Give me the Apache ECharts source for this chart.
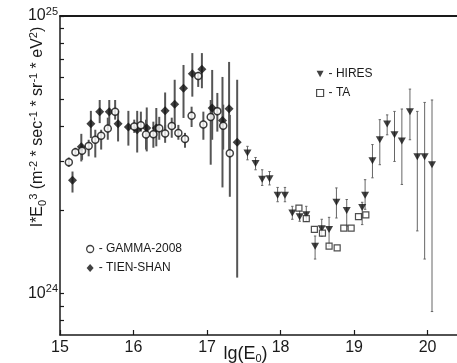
<!DOCTYPE html>
<html>
<head>
<meta charset="utf-8">
<script src="https://cdn.jsdelivr.net/npm/echarts@6/dist/echarts.min.js"></script>
<style>
  html, body { margin: 0; padding: 0; background: #fff; }
  #chart { width: 457px; height: 363px; }
</style>
</head>
<body>
<div id="chart"></div>
<script>
// x: lg(E0), y: I*E0^3 in units of 1e24 m^-2 sec^-1 sr^-1 eV^2
const gammaX = [15.12, 15.21, 15.30, 15.39, 15.48, 15.56, 15.65, 15.75, 16.01, 16.10, 16.17, 16.27, 16.35, 16.43, 16.52, 16.61, 16.70, 16.79, 16.88, 16.95, 17.05, 17.14, 17.22, 17.31];
const gammaY = [2.97, 3.23, 3.27, 3.40, 3.58, 3.70, 3.93, 4.52, 4.00, 4.04, 3.74, 3.75, 3.94, 3.77, 4.01, 3.79, 3.60, 4.37, 6.08, 4.06, 4.32, 4.54, 4.02, 3.20];
const gammaLo = [2.86, 3.14, 3.03, 3.12, 3.09, 3.30, 3.58, 4.23, 3.79, 3.83, 3.30, 3.35, 3.58, 3.49, 3.64, 3.58, 3.35, 3.98, 5.55, 3.58, 2.91, 3.83, 3.30, 2.23];
const gammaHi = [3.09, 3.35, 3.44, 3.58, 3.89, 3.89, 4.30, 4.98, 4.23, 4.52, 4.23, 4.16, 4.33, 4.05, 4.30, 4.05, 3.79, 4.71, 6.29, 4.52, 4.98, 5.28, 4.79, 4.40];

const tienX = [15.17, 15.29, 15.42, 15.54, 15.67, 15.79, 15.93, 16.05, 16.18, 16.31, 16.43, 16.56, 16.68, 16.80, 16.93, 17.07, 17.21, 17.30, 17.41];
const tienY = [2.56, 3.38, 4.09, 4.52, 4.52, 4.09, 3.98, 3.89, 3.95, 3.95, 4.55, 4.81, 5.49, 6.19, 6.43, 4.66, 4.20, 4.63, 3.51];
const tienLo = [2.31, 2.99, 3.63, 4.11, 4.05, 3.53, 3.41, 3.22, 3.25, 3.39, 3.89, 3.94, 4.29, 5.12, 5.49, 3.58, 2.41, 3.30, 1.14];
const tienHi = [2.75, 3.76, 4.55, 4.98, 4.98, 4.55, 4.55, 4.55, 4.68, 4.66, 5.30, 5.89, 6.66, 7.35, 7.35, 6.39, 6.03, 6.83, 5.89];

const hiresX = [17.55, 17.66, 17.75, 17.85, 17.96, 18.06, 18.16, 18.26, 18.35, 18.47, 18.56, 18.66, 18.76, 18.90, 19.11, 19.15, 19.25, 19.35, 19.45, 19.55, 19.65, 19.76, 19.86, 19.96, 20.06];
const hiresY = [3.21, 2.94, 2.58, 2.59, 2.26, 2.26, 1.95, 1.89, 1.92, 1.48, 1.71, 1.70, 2.13, 1.99, 2.04, 2.26, 3.01, 3.58, 4.08, 3.73, 3.54, 4.52, 3.11, 3.11, 2.91];
const hiresLo = [3.03, 2.79, 2.45, 2.46, 2.14, 2.14, 1.85, 1.82, 1.82, 1.33, 1.61, 1.48, 1.87, 1.75, 1.77, 2.01, 2.61, 2.91, 3.73, 2.99, 2.47, 3.58, 1.68, 1.33, 0.86];
const hiresHi = [3.39, 3.09, 2.79, 2.75, 2.41, 2.41, 2.06, 1.99, 2.06, 1.61, 1.85, 1.88, 2.40, 2.18, 2.13, 2.57, 3.44, 4.23, 4.40, 4.53, 4.62, 5.45, 4.53, 4.88, 4.98];

const taX = [18.25, 18.35, 18.46, 18.57, 18.66, 18.77, 18.86, 18.96, 19.06, 19.16];
const taY = [2.03, 1.86, 1.70, 1.65, 1.48, 1.46, 1.72, 1.72, 1.89, 1.92];

const xTicks = [15, 16, 17, 18, 19, 20];
const yLabelExps = [24, 25];
const yTickValues = [0.8, 0.9, 1, 2, 3, 4, 5, 6, 7, 8, 9, 10]; // x 1e24

const FONT = "'Liberation Sans', Arial, sans-serif";
const INK = "#1a1a1a";
const DOWN_TRIANGLE = "path://M0,0L10,0L5,9Z";

// plot on log10 scale
const lg = (v) => 24 + Math.log10(v);
const points = (xs, ys) => xs.map((x, i) => [x, lg(ys[i])]);
const bars = (xs, lo, hi) => xs.map((x, i) => [x, lg(lo[i]), lg(hi[i])]);

function errorBars(data, color, width, cap) {
  return {
    type: "custom",
    data: data,
    z: 1,
    silent: true,
    encode: { x: 0, y: [1, 2] },
    renderItem: (params, api) => {
      const top = api.coord([api.value(0), api.value(2)]);
      const bot = api.coord([api.value(0), api.value(1)]);
      const style = { stroke: color, lineWidth: width };
      const children = [
        { type: "line", shape: { x1: top[0], y1: top[1], x2: bot[0], y2: bot[1] }, style },
      ];
      if (cap) {
        children.push(
          { type: "line", shape: { x1: top[0] - cap, y1: top[1], x2: top[0] + cap, y2: top[1] }, style },
          { type: "line", shape: { x1: bot[0] - cap, y1: bot[1], x2: bot[0] + cap, y2: bot[1] }, style }
        );
      }
      return { type: "group", children };
    },
  };
}

const chart = echarts.init(document.getElementById("chart"), null, { renderer: "canvas" });

const legendText = { color: INK, fontSize: 12, fontFamily: FONT, lineHeight: 14 };

const option = {
  animation: false,
  backgroundColor: "#fff",
  textStyle: { fontFamily: FONT },
  grid: {
    left: 60,
    right: 0,
    top: 16,
    bottom: 28,
    containLabel: false,
    outerBoundsMode: "none",
  },
  legend: [
    {
      data: [
        { name: "GAMMA-2008", icon: "circle", itemStyle: { color: "#fff", borderColor: "#111", borderWidth: 1.3 } },
        { name: "TIEN-SHAN", icon: "diamond" },
      ],
      orient: "vertical",
      left: 86,
      top: 242,
      padding: 0,
      itemGap: 5,
      itemWidth: 7,
      itemHeight: 8,
      formatter: "- {name}",
      textStyle: legendText,
      selectedMode: false,
    },
    {
      data: [
        { name: "HIRES", icon: DOWN_TRIANGLE },
        { name: "TA", icon: "rect", itemStyle: { color: "#fff", borderColor: "#222", borderWidth: 1.2 } },
      ],
      orient: "vertical",
      left: 316,
      top: 67,
      padding: 0,
      itemGap: 5,
      itemWidth: 7,
      itemHeight: 7,
      formatter: "- {name}",
      textStyle: legendText,
      selectedMode: false,
    },
  ],
  xAxis: [
    {
      type: "value",
      min: 15,
      max: 20.4,
      name: "{a|lg(E}{sub|0}{a|)}",
      nameLocation: "middle",
      nameGap: 9,
      nameMoveOverlap: false,
      nameTextStyle: {
        padding: [0, 26, 0, 0],
        rich: {
          a: { fontSize: 18, lineHeight: 20, color: INK, fontFamily: FONT },
          sub: { fontSize: 11, lineHeight: 11, color: INK, fontFamily: FONT, verticalAlign: "bottom" },
        },
      },
      axisLine: { show: true, onZero: false, lineStyle: { color: INK, width: 1.5 } },
      axisTick: { inside: true, length: 5, customValues: xTicks, lineStyle: { color: INK, width: 1.2 } },
      axisLabel: { customValues: xTicks, color: INK, fontSize: 16, fontFamily: FONT, margin: 5 },
      splitLine: { show: false },
    },
    {
      type: "value",
      position: "top",
      min: 15,
      max: 20.4,
      axisLine: { show: true, onZero: false, lineStyle: { color: INK, width: 1.8 } },
      axisTick: { show: false },
      axisLabel: { show: false },
      splitLine: { show: false },
    },
  ],
  yAxis: {
    type: "value",
    min: 23.85,
    max: 25,
    name:
      "{m|I*E}{sub|0}{sup|3}{m| (m}{sup|-2}{m| * sec}{sup|-1}{m| * sr}{sup|-1}{m| * eV}{sup|2}{m|)}",
    nameLocation: "middle",
    nameRotate: 90,
    nameGap: 12,
    nameMoveOverlap: false,
    nameTextStyle: {
      padding: [0, 0, 0, 97],
      rich: {
        m: { fontSize: 16, lineHeight: 20, color: INK, fontFamily: FONT },
        sub: { fontSize: 11, lineHeight: 11, color: INK, fontFamily: FONT, verticalAlign: "bottom" },
        sup: { fontSize: 11, lineHeight: 11, color: INK, fontFamily: FONT, verticalAlign: "top" },
      },
    },
    axisLine: { show: true, onZero: false, lineStyle: { color: INK, width: 1.5 } },
    axisTick: {
      inside: true,
      length: 4,
      customValues: yTickValues.map(lg),
      lineStyle: { color: INK, width: 1.2 },
    },
    axisLabel: {
      customValues: yLabelExps,
      margin: 2,
      formatter: (v) => "{b|10}{s|" + Math.round(v) + "}",
      rich: {
        b: { fontSize: 16, lineHeight: 20, color: INK, fontFamily: FONT },
        s: { fontSize: 11, lineHeight: 11, color: INK, fontFamily: FONT, verticalAlign: "top" },
      },
    },
    splitLine: { show: false },
  },
  series: [
    errorBars(bars(gammaX, gammaLo, gammaHi), "#555", 2, 0),
    errorBars(bars(tienX, tienLo, tienHi), "#555", 2, 0),
    errorBars(bars(hiresX, hiresLo, hiresHi), "#666", 1, 1.2),
    {
      name: "GAMMA-2008",
      type: "scatter",
      data: points(gammaX, gammaY),
      symbol: "circle",
      symbolSize: 7,
      z: 4,
      itemStyle: { color: "#fff", borderColor: "#111", borderWidth: 1.5 },
    },
    {
      name: "TIEN-SHAN",
      type: "scatter",
      data: points(tienX, tienY),
      symbol: "diamond",
      symbolSize: 9,
      z: 3,
      itemStyle: { color: "#111" },
    },
    {
      name: "HIRES",
      type: "scatter",
      data: points(hiresX, hiresY),
      symbol: DOWN_TRIANGLE,
      symbolSize: [8, 7],
      z: 3,
      itemStyle: { color: "#111" },
    },
    {
      name: "TA",
      type: "scatter",
      data: points(taX, taY),
      symbol: "rect",
      symbolSize: 6,
      z: 4,
      itemStyle: { color: "#fff", borderColor: "#222", borderWidth: 1.2 },
    },
  ],
};

chart.setOption(option);
</script>
</body>
</html>
